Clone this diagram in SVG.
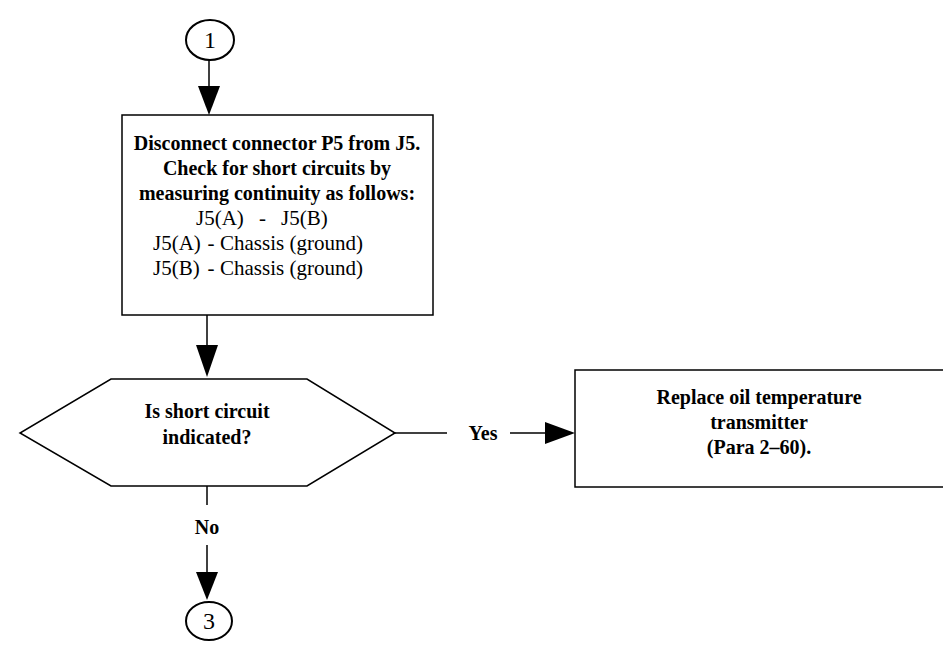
<svg xmlns="http://www.w3.org/2000/svg" width="943" height="650" viewBox="0 0 943 650">
  <style>
    .shape { fill: #ffffff; stroke: #000000; stroke-width: 1.5; }
    .term { fill: #ffffff; stroke: #000000; stroke-width: 2; }
    .txt { font-family: "Liberation Serif", "Times New Roman", serif; font-size: 20px; font-weight: bold; fill: #000000; text-anchor: middle; }
    .pin { font-family: "Liberation Serif", "Times New Roman", serif; font-size: 21px; font-weight: normal; fill: #000000; text-anchor: start; }
    .num { font-family: "Liberation Serif", "Times New Roman", serif; font-size: 24px; fill: #000000; text-anchor: middle; }
    .wire { stroke: #000000; stroke-width: 1.5; fill: none; }
    .head { fill: #000000; stroke: none; }
  </style>
  <rect width="943" height="650" fill="#ffffff"/>

  <g id="connectors">
    <line class="wire" x1="209" y1="60" x2="209" y2="87"/>
    <polygon class="head" points="198,86 220,86 209,115"/>
    <line class="wire" x1="207" y1="315" x2="207" y2="346"/>
    <polygon class="head" points="196,345 218,345 207,377"/>
    <line class="wire" x1="395" y1="433" x2="447" y2="433"/>
    <text class="txt" x="483" y="440">Yes</text>
    <line class="wire" x1="510" y1="433" x2="546" y2="433"/>
    <polygon class="head" points="545,422 545,444 575,433"/>
    <line class="wire" x1="207" y1="486" x2="207" y2="505"/>
    <text class="txt" x="207" y="534">No</text>
    <line class="wire" x1="207" y1="545" x2="207" y2="573"/>
    <polygon class="head" points="196,572 218,572 207,600"/>
  </g>

  <g id="start">
    <ellipse class="term" cx="210" cy="40" rx="24" ry="20"/>
    <text class="num" x="210" y="48">1</text>
  </g>

  <g id="check">
    <rect class="shape" x="122" y="115" width="311" height="200"/>
    <text class="txt" x="277" y="150">Disconnect connector P5 from J5.</text>
    <text class="txt" x="277" y="175">Check for short circuits by</text>
    <text class="txt" x="277" y="200">measuring continuity as follows:</text>
    <text class="pin" y="225"><tspan x="196">J5(A)</tspan><tspan x="259">-</tspan><tspan x="281">J5(B)</tspan></text>
    <text class="pin" y="250"><tspan x="153">J5(A)</tspan><tspan x="207.5">-</tspan><tspan x="220">Chassis (ground)</tspan></text>
    <text class="pin" y="275"><tspan x="153">J5(B)</tspan><tspan x="207.5">-</tspan><tspan x="220">Chassis (ground)</tspan></text>
  </g>

  <g id="decision">
    <polygon class="shape" points="111,379 307,379 395,433 307,486 111,486 20,433"/>
    <text class="txt" x="207" y="418">Is short circuit</text>
    <text class="txt" x="207" y="444">indicated?</text>
  </g>

  <g id="replace">
    <rect class="shape" x="575" y="370" width="380" height="117"/>
    <text class="txt" x="759" y="404">Replace oil temperature</text>
    <text class="txt" x="759" y="429">transmitter</text>
    <text class="txt" x="759" y="454">(Para 2–60).</text>
  </g>

  <g id="end">
    <ellipse class="term" cx="209" cy="621" rx="23" ry="19"/>
    <text class="num" x="209" y="629">3</text>
  </g>
</svg>
